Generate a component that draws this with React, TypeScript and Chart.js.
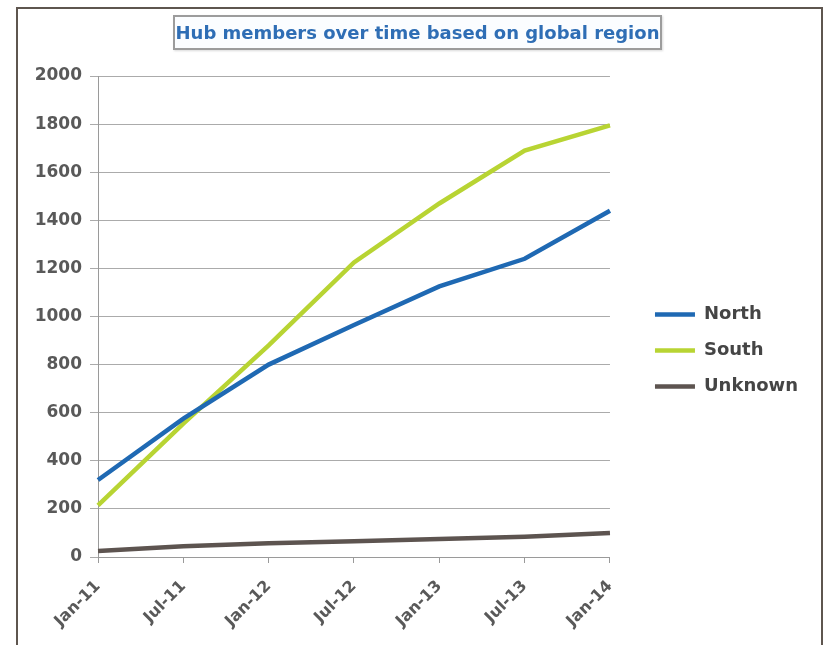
import React, { useEffect, useRef } from "react";
import { Chart, registerables } from "chart.js";

Chart.register(...registerables);

const categories = ["Jan-11", "Jul-11", "Jan-12", "Jul-12", "Jan-13", "Jul-13", "Jan-14"];
const northValues = [320, 575, 800, 965, 1125, 1240, 1440];
const southValues = [215, 555, 880, 1225, 1470, 1690, 1795];
const unknownValues = [25, 45, 57, 66, 75, 84, 100];
const yMin = 0;
const yMax = 2000;
const yStep = 200;
const titleText = "Hub members over time based on global region";

const FONT = "'DejaVu Sans', 'Liberation Sans', Arial, sans-serif";

const legendShift = {
  id: "legendShift",
  afterLayout(chart: any) {
    const l = chart.legend;
    if (l) {
      l.left += 27;
      l.right += 27;
      l.top -= 10;
      l.bottom -= 10;
    }
  },
};

export default function App() {
  const canvasRef = useRef<HTMLCanvasElement | null>(null);

  useEffect(() => {
    if (!canvasRef.current) return;
    const chart = new Chart(canvasRef.current, {
      type: "line",
      data: {
        labels: categories,
        datasets: [
          {
            label: "North",
            data: northValues,
            borderColor: "#1f69b3",
            backgroundColor: "#1f69b3",
            borderWidth: 4.5,
            pointRadius: 0,
            tension: 0,
          },
          {
            label: "South",
            data: southValues,
            borderColor: "#b8d433",
            backgroundColor: "#b8d433",
            borderWidth: 4.5,
            pointRadius: 0,
            tension: 0,
          },
          {
            label: "Unknown",
            data: unknownValues,
            borderColor: "#5d5450",
            backgroundColor: "#5d5450",
            borderWidth: 4.5,
            pointRadius: 0,
            tension: 0,
          },
        ],
      },
      options: {
        responsive: false,
        animation: false,
        layout: { padding: { left: 20, top: 76, right: 44, bottom: 0 } },
        plugins: {
          title: { display: false },
          tooltip: { enabled: false },
          legend: {
            display: true,
            position: "right",
            align: "center",
            labels: {
              usePointStyle: true,
              pointStyle: "line",
              pointStyleWidth: 40,
              boxHeight: 4,
              padding: 18,
              color: "#454545",
              font: { family: FONT, size: 18, weight: "bold" },
            },
          },
        },
        scales: {
          x: {
            type: "category",
            offset: false,
            afterFit: (scale: any) => {
              scale.height = 88;
            },
            grid: {
              drawOnChartArea: false,
              drawTicks: true,
              tickLength: 6,
              color: "#9a9a9a",
            },
            border: { display: true, color: "#9a9a9a", width: 1 },
            ticks: {
              minRotation: 45,
              maxRotation: 45,
              autoSkip: false,
              padding: 14,
              color: "#595959",
              font: { family: FONT, size: 16, weight: "bold" },
            },
          },
          y: {
            min: yMin,
            max: yMax,
            afterFit: (scale: any) => {
              scale.width = 78;
            },
            grid: {
              color: "#ababab",
              lineWidth: 1,
              drawTicks: true,
              tickLength: 8,
            },
            border: { display: true, color: "#9a9a9a", width: 1 },
            ticks: {
              stepSize: yStep,
              padding: 8,
              color: "#595959",
              font: { family: FONT, size: 17, weight: "bold" },
              callback: (value: any) => String(value),
            },
          },
        },
      },
      plugins: [legendShift],
    });
    return () => chart.destroy();
  }, []);

  return (
    <div
      style={{
        position: "fixed",
        left: 0,
        top: 0,
        width: 825,
        height: 645,
        overflow: "hidden",
        background: "#ffffff",
      }}
    >
      <div
        style={{
          position: "absolute",
          left: 16,
          top: 7,
          width: 807,
          height: 700,
          boxSizing: "border-box",
          border: "2px solid #5e564f",
          background: "#ffffff",
        }}
      />
      <canvas
        ref={canvasRef}
        width={825}
        height={645}
        style={{ position: "absolute", left: 0, top: 0, width: 825, height: 645 }}
      />
      <div
        style={{
          position: "absolute",
          left: 173,
          top: 15,
          width: 489,
          height: 35,
          boxSizing: "border-box",
          border: "2px solid #9c9c9c",
          boxShadow: "1px 1px 2px rgba(0,0,0,0.15)",
          background: "#fbfdff",
          color: "#2f6eb5",
          fontFamily: FONT,
          fontWeight: "bold",
          fontSize: 18,
          lineHeight: "31px",
          textAlign: "center",
          whiteSpace: "nowrap",
        }}
      >
        {titleText}
      </div>
    </div>
  );
}
